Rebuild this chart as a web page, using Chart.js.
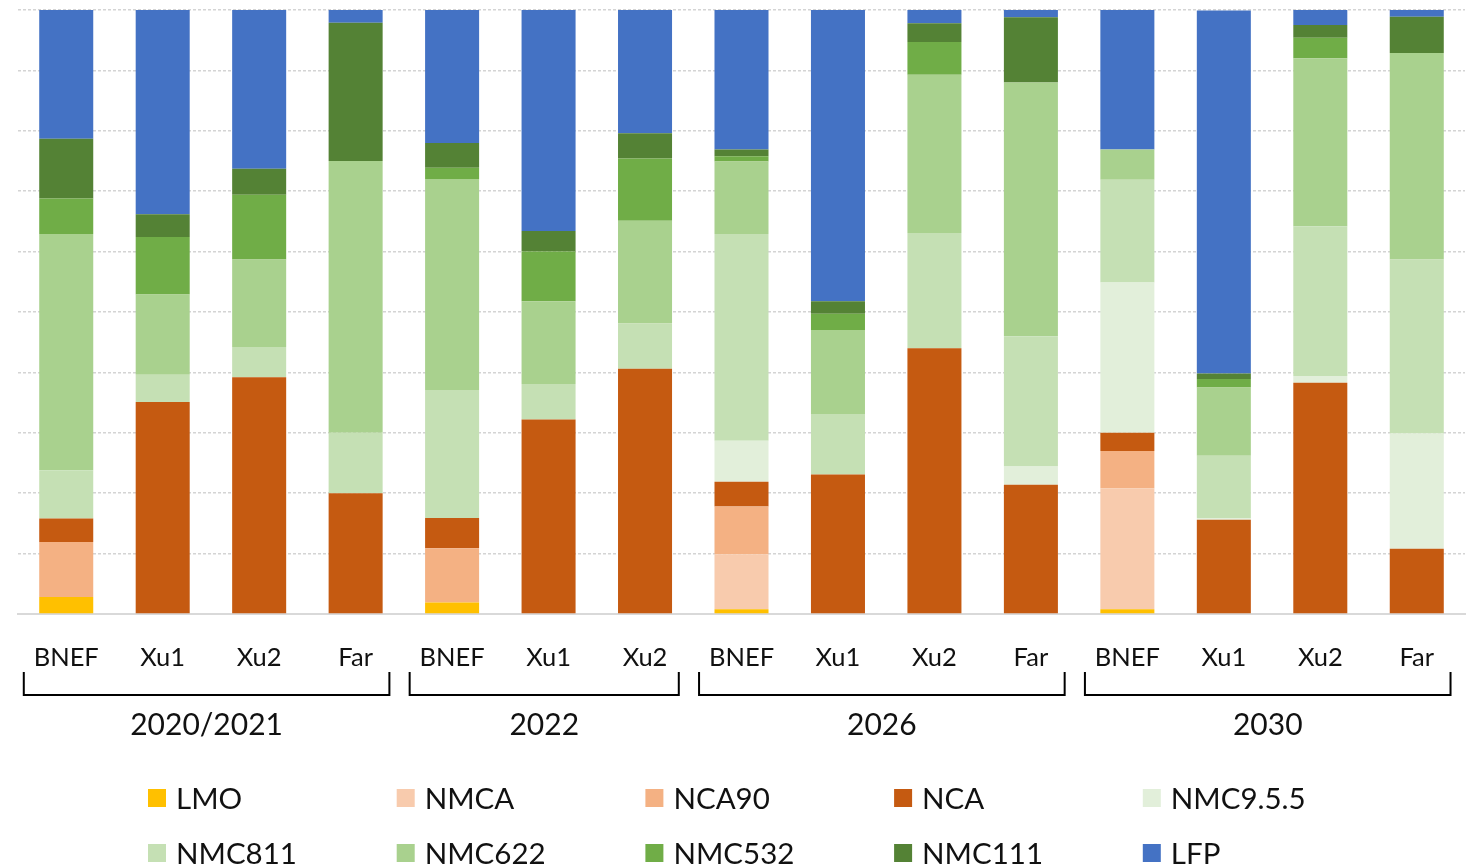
<!DOCTYPE html>
<html>
<head>
<meta charset="utf-8">
<script src="https://cdn.jsdelivr.net/npm/chart.js@4"></script>
<style>
  html, body { margin: 0; padding: 0; background: #fff; }
  #wrap { width: 1473px; height: 868px; }
</style>
</head>
<body>
<div id="wrap"><canvas id="chart" width="1473" height="868"></canvas></div>
<script>
// bar labels and the year groups underneath them
const categories = ["BNEF", "Xu1", "Xu2", "Far", "BNEF", "Xu1", "Xu2", "BNEF", "Xu1", "Xu2", "Far", "BNEF", "Xu1", "Xu2", "Far"];
const groups = [
  { label: "2020/2021", from: 0, to: 3 },
  { label: "2022", from: 4, to: 6 },
  { label: "2026", from: 7, to: 10 },
  { label: "2030", from: 11, to: 14 },
];

// share of each chemistry (%)
const LMO    = [2.8, 0, 0, 0, 1.9, 0, 0, 0.8, 0, 0, 0, 0.8, 0, 0, 0];
const NMCA   = [0, 0, 0, 0, 0, 0, 0, 9.1, 0, 0, 0, 20.0, 0, 0, 0];
const NCA90  = [9.1, 0, 0, 0, 9.0, 0, 0, 7.9, 0, 0, 0, 6.2, 0, 0, 0];
const NCA    = [3.9, 35.1, 39.2, 20.0, 5.0, 32.2, 40.6, 4.1, 23.1, 44.0, 21.4, 3.0, 15.6, 38.3, 10.8];
const NMC955 = [0, 0, 0, 0, 0, 0, 0, 6.8, 0, 0, 3.0, 24.9, 0.3, 1.1, 19.1];
const NMC811 = [8.0, 4.5, 5.0, 10.0, 21.2, 5.9, 7.5, 34.2, 10.0, 19.1, 21.6, 17.0, 10.3, 24.8, 28.8];
const NMC622 = [39.1, 13.3, 14.5, 45.0, 34.9, 13.7, 17.0, 12.0, 13.9, 26.2, 42.0, 5.0, 11.3, 27.8, 34.2];
const NMC532 = [5.9, 9.5, 10.7, 0, 1.9, 8.2, 10.3, 0.9, 2.7, 5.4, 0, 0, 1.4, 3.4, 0];
const NMC111 = [9.9, 3.8, 4.3, 22.9, 4.1, 3.4, 4.2, 1.1, 2.1, 3.1, 10.8, 0, 0.9, 2.1, 6.0];
const LFP    = [21.3, 33.8, 26.3, 2.2, 22.1, 36.7, 20.4, 23.1, 48.3, 2.2, 1.2, 23.1, 60.1, 2.6, 1.2];

const series = [
  { label: "LMO", data: LMO, color: "#FFC000" },
  { label: "NMCA", data: NMCA, color: "#F8CBAD" },
  { label: "NCA90", data: NCA90, color: "#F4B183" },
  { label: "NCA", data: NCA, color: "#C55A11" },
  { label: "NMC9.5.5", data: NMC955, color: "#E2EFDA" },
  { label: "NMC811", data: NMC811, color: "#C5E0B4" },
  { label: "NMC622", data: NMC622, color: "#A9D18E" },
  { label: "NMC532", data: NMC532, color: "#70AD47" },
  { label: "NMC111", data: NMC111, color: "#548235" },
  { label: "LFP", data: LFP, color: "#4472C4" },
];

const FONT = "Lato, 'Open Sans', sans-serif";

// brackets + year labels under the category ticks
const groupBrackets = {
  id: "groupBrackets",
  afterDraw(chart) {
    const ctx = chart.ctx;
    const x = chart.scales.x;
    const step = x.getPixelForValue(1) - x.getPixelForValue(0);
    ctx.save();
    ctx.strokeStyle = "#000";
    ctx.lineWidth = 2;
    ctx.fillStyle = "#111";
    ctx.font = "30px " + FONT;
    ctx.textAlign = "center";
    ctx.textBaseline = "middle";
    groups.forEach((g) => {
      const left = x.getPixelForValue(g.from) - step * 0.44;
      const right = x.getPixelForValue(g.to) + step * 0.35;
      ctx.beginPath();
      ctx.moveTo(left, 672);
      ctx.lineTo(left, 695);
      ctx.lineTo(right, 695);
      ctx.lineTo(right, 672);
      ctx.stroke();
      ctx.fillText(g.label, (left + right) / 2, 725);
    });
    ctx.restore();
  },
};

// legend in a 5 x 2 grid like the original
const gridLegend = {
  id: "gridLegend",
  afterDraw(chart) {
    const ctx = chart.ctx;
    ctx.save();
    ctx.font = "29.5px " + FONT;
    ctx.textBaseline = "middle";
    ctx.textAlign = "left";
    chart.data.datasets.forEach((ds, i) => {
      const col = i % 5;
      const row = Math.floor(i / 5);
      const mx = 148 + col * 248.7;
      const my = 798 + row * 55;
      ctx.fillStyle = ds.backgroundColor;
      ctx.fillRect(mx, my - 9, 18, 18);
      ctx.fillStyle = "#111";
      ctx.fillText(ds.label, mx + 28, my + 1);
    });
    ctx.restore();
  },
};

new Chart(document.getElementById("chart").getContext("2d"), {
  type: "bar",
  data: {
    labels: categories,
    datasets: series.map((s) => ({
      label: s.label,
      data: s.data,
      backgroundColor: s.color,
      borderWidth: 0,
      categoryPercentage: 1,
      barPercentage: 0.56,
    })),
  },
  options: {
    responsive: false,
    animation: false,
    layout: { padding: { left: 18, right: 8, top: 10, bottom: 0 } },
    plugins: {
      legend: { display: false },
      tooltip: { enabled: false },
    },
    scales: {
      x: {
        stacked: true,
        grid: { display: false, drawTicks: false },
        border: { display: true, color: "#d9d9d9", width: 2 },
        ticks: {
          font: { family: FONT, size: 25.5 },
          color: "#111",
          padding: 28,
          maxRotation: 0,
          autoSkip: false,
        },
        afterFit: (scale) => {
          scale.height = 254;
        },
      },
      y: {
        stacked: true,
        min: 0,
        max: 100,
        ticks: { display: false, stepSize: 10 },
        grid: { color: "#d4d4d4", lineWidth: 1.5, drawTicks: false },
        border: { display: false, dash: [3, 2] },
      },
    },
  },
  plugins: [groupBrackets, gridLegend],
});
</script>
</body>
</html>
